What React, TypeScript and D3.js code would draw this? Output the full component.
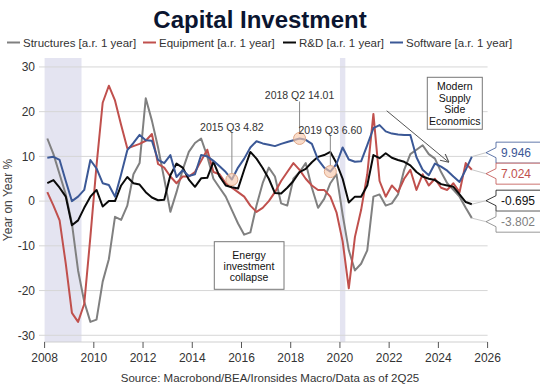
import React from "react";
import * as d3 from "d3";

// quarterly y/y % change, 2008 Q1 .. 2025 Q2
const startYear = 2008;
const structures = [14, 10.5, 6, 1.5, -5, -15.5, -22.5, -27, -26.5, -18, -13, -3.5, -4.2, -1, 6, 8.5, 23, 18, 12, 5, -2.4, 2, 7, 11, 13, 14, 10, 5, 3, 1, -2, -5, -7.5, -7, -1, 4, 7.5, 5.5, -0.5, -1, 5, 6.5, 8.5, 3, -1.5, 0.5, 4, 6, -3, -11, -15.5, -14, -11, 1, 1.5, -1, -0.5, 1.5, 7, 10.5, 11.5, 12.5, 10.5, 9.5, 6.5, 4, 2.5, 1, -1.5, -3.802];
const equipment = [2, -1, -4.3, -14, -25, -27, -23, -8, 8, 22, 25.8, 22.5, 17, 11.8, 12.3, 12.8, 13.5, 15, 8.3, 7.5, 5.5, 4, 5.5, 5.5, 6.5, 9, 11.5, 6.5, 6, 4, 3, 2, 1, -1, -2.4, -1.5, 0, 2, 4.5, 6.5, 8.5, 7, 5, 3.5, 2.5, 2.5, 1, -2.5, -9, -19.5, -8, -2, 6, 19.5, 4.5, 1, 3.5, 2, 5, 7, 2.5, 6, 3.5, 5, 3, 2.5, 4, 2, 8.5, 7.024];
const rnd = [4, 4.7, 3, 1, -5.4, -4.3, -1.5, 1, 2.5, -1.2, 0, 0, 3.5, 5.4, 4, 3.7, 2, 0.8, 0.2, 0.3, 5.8, 8.4, 7.5, 4.8, 3.2, 5.1, 5.2, 8.8, 5.5, 3.5, 3.1, 2.8, 7, 11, 9.5, 7.4, 5, 1.8, 1.7, 3, 4.5, 6.5, 7.2, 8.7, 9.9, 10.3, 11, 8.5, 5, -0.3, 1, 1, 3.5, 10.3, 9.6, 10.7, 9.7, 9.2, 8.8, 8, 6.5, 5.5, 5, 4.7, 3.8, 3.5, 3.2, 1.5, -0.2, -0.695];
const software = [9.7, 9.9, 9.2, 4.5, 0, 1, 2.5, 9.2, 7.3, 4, 3.6, 1, 6, 11.4, 13, 14.8, 13.6, 13.5, 9.2, 8.5, 10.3, 5.4, 6.9, 5.6, 6, 10.3, 10, 9, 7.8, 6.5, 4.82, 7.5, 9.5, 12, 13.4, 12.9, 12.6, 12.3, 12.8, 13.2, 13.6, 14.01, 13.7, 12.8, 9.3, 7.5, 6.6, 8.3, 12, 9.3, 8.8, 8.9, 12.5, 16.3, 17, 15.6, 15.1, 14.9, 14.8, 14.8, 9.8, 7, 5.8, 8.4, 7.7, 6.8, 5.5, 4.3, 7, 9.946];

const seriesNames = ["Structures [a.r. 1 year]", "Equipment [a.r. 1 year]", "R&D [a.r. 1 year]", "Software [a.r. 1 year]"];
const seriesColors = ["#808080", "#c0504d", "#0a0a0a", "#3b5896"];
const labelColors = ["#808080", "#c0504d", "#111111", "#3b5896"];
const legendX = [7, 143, 283, 390];

const recessions = [[2008.0, 2009.5], [2020.0, 2020.22]];
const yTicks = [30, 20, 10, 0, -10, -20, -30];
const xTicks = [2008, 2010, 2012, 2014, 2016, 2018, 2020, 2022, 2024, 2026];

// callouts on the software line: [quarter index, label]
const callouts: [number, string, number][] = [
  [30, "2015 Q3 4.82", 53],
  [41, "2018 Q2 14.01", 43],
  [46, "2019 Q3 6.60", 42],
];

const font = "'Liberation Sans', Arial, sans-serif";

export default function App() {
  const W = 540, H = 387;
  const x = d3.scaleLinear().domain([2008, 2026]).range([44.6, 487.6]);
  const y = d3.scaleLinear().domain([-31.5, 32]).range([342, 58]);
  const t = (i: number) => startYear + i * 0.25 + 0.11;

  const all = [structures, equipment, rnd, software];
  const line = d3.line<number>().x((_, i) => x(t(i))).y((d) => y(d));

  // end-of-series value labels, spread so they don't overlap
  const h = 21;
  const ends = all.map((s, k) => ({ k, v: s[s.length - 1], ly: y(s[s.length - 1]) }));
  ends.sort((a, b) => a.ly - b.ly);
  for (let it = 0; it < 50; it++) {
    for (let i = 1; i < ends.length; i++) {
      const gap = ends[i].ly - ends[i - 1].ly;
      if (gap < h) {
        const d = (h - gap) / 2;
        ends[i].ly += d;
        ends[i - 1].ly -= d;
      }
    }
  }
  const lastX = x(t(structures.length - 1));

  return (
    <svg width={W} height={H} style={{ position: "absolute", left: 0, top: 0, background: "#fff" }} fontFamily={font}>
      <defs>
        <marker id="arr" viewBox="0 0 10 10" refX="9" refY="5" markerWidth="9" markerHeight="9" orient="auto">
          <path d="M0,0 L10,5 L0,10" fill="none" stroke="#555" strokeWidth="1.2" />
        </marker>
      </defs>
      <text x={260} y={28} textAnchor="middle" fontSize={24} fontWeight="bold" fill="#0b1530">
        Capital Investment
      </text>
      {seriesNames.map((n, k) => (
        <g key={n}>
          <line x1={legendX[k]} x2={legendX[k] + 13} y1={42.5} y2={42.5} stroke={seriesColors[k]} strokeWidth={2} />
          <text x={legendX[k] + 16} y={46.5} fontSize={11.5} fill="#333">{n}</text>
        </g>
      ))}

      {recessions.map(([a, b]) => (
        <rect key={a} x={x(a)} y={58} width={x(b) - x(a)} height={342 - 58} fill="#e4e4f1" />
      ))}
      {yTicks.map((v) => (
        <g key={v}>
          <line x1={39} x2={x(2026)} y1={y(v)} y2={y(v)} stroke="#d6d6d6" />
          <text x={35} y={y(v) + 4.3} textAnchor="end" fontSize={12} fill="#333">{v}</text>
        </g>
      ))}
      <line x1={44} x2={x(2026)} y1={342} y2={342} stroke="#cfcfcf" />
      {xTicks.map((v) => (
        <g key={v}>
          <line x1={x(v)} x2={x(v)} y1={342} y2={348} stroke="#555" />
          <text x={x(v)} y={361.5} textAnchor="middle" fontSize={12} fill="#333">{v}</text>
        </g>
      ))}
      <text transform="translate(12,200) rotate(-90)" textAnchor="middle" fontSize={12} fill="#444">Year on Year %</text>

      {all.map((s, k) => (
        <path key={k} d={line(s) || ""} fill="none" stroke={seriesColors[k]} strokeWidth={2} strokeLinejoin="round" />
      ))}

      {callouts.map(([i, label, off]) => {
        const cx = x(t(i)), cy = y(software[i]);
        return (
          <g key={label}>
            <line x1={cx} x2={cx} y1={cy - off + 6} y2={cy - 6} stroke="#888" />
            <circle cx={cx} cy={cy} r={6} fill="#f7c9ac" fillOpacity={0.65} stroke="#e0a888" />
            <text x={cx} y={cy - off + 4} textAnchor="middle" fontSize={10.5} fill="#333">{label}</text>
          </g>
        );
      })}

      <g>
        <rect x={214.3} y={241.7} width={69.7} height={47.6} fill="#fff" stroke="#777" />
        {["Energy", "investment", "collapse"].map((s, i) => (
          <text key={s} x={249} y={258.5 + i * 11.3} textAnchor="middle" fontSize={10.5} fill="#111">{s}</text>
        ))}
      </g>
      <g>
        <rect x={427.3} y={77.3} width={55} height={52} fill="#fff" stroke="#777" />
        {["Modern", "Supply", "Side", "Economics"].map((s, i) => (
          <text key={s} x={454.8} y={90 + i * 11.5} textAnchor="middle" fontSize={10.5} fill="#111">{s}</text>
        ))}
      </g>
      <line x1={x(2021.9)} y1={y(20.2)} x2={x(2024.4)} y2={y(8.8)} stroke="#555" strokeWidth={1} markerEnd="url(#arr)" />

      {ends.map((e) => (
        <g key={e.k}>
          <line x1={lastX} x2={486} y1={y(e.v)} y2={e.ly} stroke="#c8c8c8" />
          <path
            d={`M486,${e.ly} L496,${e.ly - 5} L496,${e.ly - h / 2} L541,${e.ly - h / 2} L541,${e.ly + h / 2} L496,${e.ly + h / 2} L496,${e.ly + 5} Z`}
            fill="#fff"
            stroke={seriesColors[e.k]}
            strokeOpacity={0.8}
          />
          <text x={501} y={e.ly + 4.3} fontSize={12} fill={labelColors[e.k]}>{e.v.toFixed(3)}</text>
        </g>
      ))}

      <text x={270} y={382} textAnchor="middle" fontSize={11.5} fill="#333">
        Source: Macrobond/BEA/Ironsides Macro/Data as of 2Q25
      </text>
    </svg>
  );
}
